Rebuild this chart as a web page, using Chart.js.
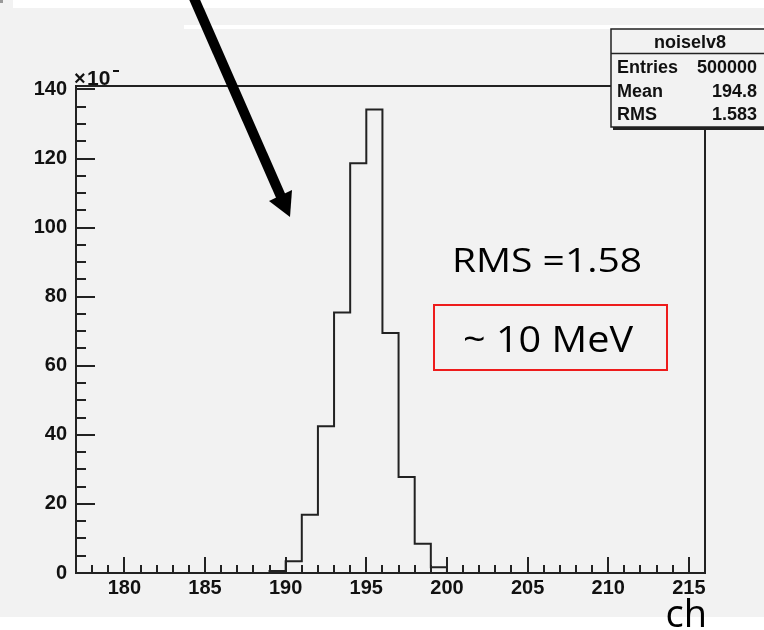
<!DOCTYPE html>
<html>
<head>
<meta charset="utf-8">
<script src="https://cdn.jsdelivr.net/npm/chart.js@4.4.1/dist/chart.umd.min.js"></script>
<style>
html, body { margin: 0; padding: 0; background: #f2f2f2; }
canvas { display: block; }
</style>
</head>
<body>
<canvas id="myChart" width="764" height="630"></canvas>
<script>
// histogram: lower edge of each 1-ch bin and its content
const binLow = [189, 190, 191, 192, 193, 194, 195, 196, 197, 198, 199];
const counts = [0.6, 3.4, 16.9, 42.5, 75.4, 118.6, 134.2, 69.5, 27.8, 8.5, 1.7];
const binWidth = 1;

// axis ticks
const xTicks = [180, 185, 190, 195, 200, 205, 210, 215];
const yTicks = [0, 20, 40, 60, 80, 100, 120, 140];

// stats box
const statsTitle = 'noiselv8';
const statsNames = ['Entries', 'Mean', 'RMS'];
const statsValues = ['500000', '194.8', '1.583'];

const lineCol = '#222';
const bg = '#f2f2f2';

// outline points (step goes horizontal first, then vertical)
const points = [{ x: binLow[0], y: 0 }];
binLow.forEach((x, i) => points.push({ x: x, y: counts[i] }));
points.push({ x: binLow[binLow.length - 1] + binWidth, y: 0 });

// draw text squeezed/stretched to a given width
function fitText(ctx, text, cx, baseY, w, font) {
    ctx.save();
    ctx.font = font;
    const m = ctx.measureText(text).width;
    ctx.translate(cx, baseY);
    ctx.scale(w / m, 1);
    ctx.textAlign = 'center';
    ctx.textBaseline = 'alphabetic';
    ctx.fillText(text, 0, 0);
    ctx.restore();
}

const rootStyle = {
    id: 'rootStyle',
    beforeDraw(chart) {
        const ctx = chart.ctx;
        ctx.save();
        ctx.fillStyle = bg;
        ctx.fillRect(0, 0, chart.width, chart.height);
        ctx.fillStyle = '#fff';
        ctx.fillRect(13, 0, chart.width - 13, 8);
        ctx.fillRect(184, 25, chart.width - 184, 4);
        ctx.fillRect(0, 617, chart.width, chart.height - 617);
        ctx.fillStyle = '#999';
        ctx.fillRect(0, 0, 3, 3);
        ctx.restore();
    },
    afterDraw(chart) {
        const ctx = chart.ctx;
        const a = chart.chartArea;
        const xs = chart.scales.x, ys = chart.scales.y;
        ctx.save();

        // frame
        ctx.strokeStyle = lineCol;
        ctx.lineWidth = 2;
        ctx.strokeRect(a.left, a.top, a.right - a.left, a.bottom - a.top);

        // inside ticks
        ctx.beginPath();
        for (let v = Math.ceil(xs.min); v <= xs.max; v++) {
            const px = Math.round(xs.getPixelForValue(v));
            const len = v % 5 === 0 ? 16 : 8;
            ctx.moveTo(px, a.bottom);
            ctx.lineTo(px, a.bottom - len);
        }
        for (let v = 0; v <= ys.max; v += 5) {
            const py = Math.round(ys.getPixelForValue(v));
            const len = v % 20 === 0 ? 19 : 10;
            ctx.moveTo(a.left, py);
            ctx.lineTo(a.left + len, py);
        }
        ctx.stroke();

        // x10 exponent label
        ctx.fillStyle = '#111';
        ctx.textBaseline = 'alphabetic';
        ctx.textAlign = 'left';
        ctx.font = 'bold 20px "Liberation Sans"';
        ctx.fillText('\u00d7', 74, 85);
        ctx.font = 'bold 21px "Liberation Sans"';
        ctx.fillText('10', 87, 85);
        ctx.fillRect(113, 70, 6, 2);

        // stats box
        const bx = 611, by = 29, bw = 170, bh = 98;
        ctx.fillStyle = bg;
        ctx.fillRect(bx, by, bw, bh);
        ctx.fillStyle = lineCol;
        ctx.fillRect(bx + 2, by + bh, bw, 3);
        ctx.lineWidth = 1.5;
        ctx.strokeStyle = lineCol;
        ctx.strokeRect(bx, by, bw, bh);
        ctx.beginPath();
        ctx.moveTo(bx, 53.5);
        ctx.lineTo(bx + bw, 53.5);
        ctx.stroke();
        ctx.fillStyle = '#111';
        ctx.font = 'bold 18px "Liberation Sans"';
        ctx.textAlign = 'center';
        ctx.fillText(statsTitle, 690, 48);
        const rowBase = [73, 97, 120];
        statsNames.forEach((n, i) => {
            ctx.textAlign = 'left';
            ctx.fillText(n, 617, rowBase[i]);
            ctx.textAlign = 'right';
            ctx.fillText(statsValues[i], 757, rowBase[i]);
        });

        // annotations
        ctx.fillStyle = '#000';
        fitText(ctx, 'RMS =1.58', 547, 272, 190, '33px "Open Sans"');
        ctx.strokeStyle = '#ee1c1c';
        ctx.lineWidth = 2;
        ctx.strokeRect(434, 305, 233, 65);
        fitText(ctx, '~ 10 MeV', 548, 352, 170, '37px "Open Sans"');

        ctx.font = '38px "Open Sans"';
        ctx.textAlign = 'right';
        ctx.fillText('ch', 707, 627);

        // arrow
        const tip = [290, 217];
        const base = [281, 197];
        ctx.strokeStyle = '#000';
        ctx.lineWidth = 10;
        ctx.beginPath();
        ctx.moveTo(193, -4);
        ctx.lineTo(base[0] + 1, base[1] + 2);
        ctx.stroke();
        ctx.fillStyle = '#000';
        ctx.beginPath();
        ctx.moveTo(tip[0], tip[1]);
        ctx.lineTo(292, 190);
        ctx.lineTo(269, 201);
        ctx.closePath();
        ctx.fill();

        ctx.restore();
    }
};

new Chart(document.getElementById('myChart'), {
    type: 'line',
    data: {
        datasets: [{
            data: points,
            stepped: true,
            borderColor: lineCol,
            borderWidth: 2,
            pointRadius: 0,
            fill: false
        }]
    },
    options: {
        responsive: false,
        animation: false,
        devicePixelRatio: 1,
        layout: { padding: { top: 86, right: 59, left: 0, bottom: 0 } },
        plugins: { legend: { display: false }, tooltip: { enabled: false } },
        scales: {
            x: {
                type: 'linear',
                min: 177,
                max: 216,
                afterBuildTicks: s => { s.ticks = xTicks.map(v => ({ value: v })); },
                afterFit: s => { s.height = 57; },
                grid: { display: false, drawTicks: false },
                border: { display: false },
                ticks: {
                    color: '#111',
                    font: { family: 'Liberation Sans', size: 20, weight: 'bold' },
                    padding: 3,
                    maxRotation: 0,
                    autoSkip: false
                }
            },
            y: {
                min: 0,
                max: 141,
                afterBuildTicks: s => { s.ticks = yTicks.map(v => ({ value: v })); },
                afterFit: s => { s.width = 76; },
                grid: { display: false, drawTicks: false },
                border: { display: false },
                ticks: {
                    color: '#111',
                    font: { family: 'Liberation Sans', size: 20, weight: 'bold' },
                    padding: 9,
                    autoSkip: false
                }
            }
        }
    },
    plugins: [rootStyle]
});
</script>
</body>
</html>
